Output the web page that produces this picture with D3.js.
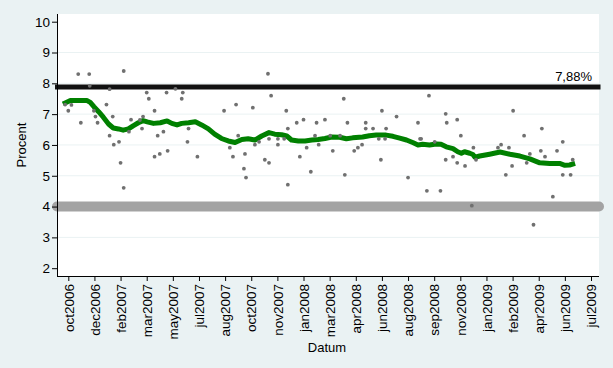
<!DOCTYPE html>
<html><head><meta charset="utf-8">
<script src="https://cdn.jsdelivr.net/npm/d3@7"></script>
<style>
body{margin:0;background:#eaf2f3}
svg{display:block}
text{font-family:"Liberation Sans",Arial,Helvetica,sans-serif;fill:#000}
</style>
</head><body><svg id="c" width="613" height="368"></svg>
<script>
// ---------- data ----------
const tickDates = ["2006-10-25","2006-12-14","2007-02-02","2007-03-24","2007-05-13","2007-07-02","2007-08-21",
  "2007-10-10","2007-11-29","2008-01-18","2008-03-08","2008-04-27","2008-06-16","2008-08-05","2008-09-24",
  "2008-11-13","2009-01-02","2009-02-21","2009-04-12","2009-06-01","2009-07-21"];
const yTicks = [2,3,4,5,6,7,8,9,10];
const yGrid = [3,4,5,6,7,8,9];
const yTitle = "Procent";
const xTitle = "Datum";

const pollDates = ["2006-10-19","2006-10-25","2006-10-31","2006-11-13","2006-11-18","2006-12-04","2006-12-05",
  "2006-12-13","2006-12-16","2006-12-20","2007-01-06","2007-01-12","2007-01-12","2007-01-18","2007-01-20",
  "2007-01-30","2007-02-02","2007-02-08","2007-02-08","2007-02-18","2007-02-22","2007-03-11","2007-03-15",
  "2007-03-17","2007-03-24","2007-03-28","2007-04-08","2007-04-08","2007-04-14","2007-04-18","2007-04-25",
  "2007-05-01","2007-05-03","2007-05-18","2007-05-30","2007-06-01","2007-06-10","2007-06-12","2007-06-29",
  "2007-08-19","2007-08-30","2007-09-05","2007-09-11","2007-09-15","2007-09-26","2007-09-28","2007-09-30",
  "2007-10-13","2007-10-17","2007-10-25","2007-11-05","2007-11-11","2007-11-13","2007-11-13","2007-11-17",
  "2007-11-30","2007-11-30","2007-12-12","2007-12-16","2007-12-19","2007-12-19","2008-01-05","2008-01-11",
  "2008-01-18","2008-01-24","2008-02-01","2008-02-09","2008-02-12","2008-02-16","2008-02-28","2008-03-09",
  "2008-03-14","2008-03-28","2008-04-04","2008-04-06","2008-04-11","2008-04-24","2008-05-01","2008-05-09",
  "2008-05-16","2008-05-16","2008-05-30","2008-06-10","2008-06-14","2008-06-16","2008-06-22","2008-06-24",
  "2008-07-14","2008-08-05","2008-08-24","2008-08-28","2008-08-30","2008-09-10","2008-09-14","2008-09-25",
  "2008-10-06","2008-10-16","2008-10-16","2008-10-18","2008-10-30","2008-11-07","2008-11-07","2008-11-14",
  "2008-11-22","2008-12-05","2008-12-08","2008-12-13","2009-01-24","2009-01-30","2009-02-08","2009-02-14",
  "2009-02-20","2009-02-22","2009-03-15","2009-03-20","2009-03-26","2009-04-02","2009-04-16","2009-04-18",
  "2009-04-24","2009-05-09","2009-05-17","2009-05-28","2009-05-28","2009-06-12","2009-06-16"];
const pollValues = [7.31,7.11,7.30,8.30,6.72,8.30,7.92,
  7.11,6.92,6.72,7.31,7.81,6.30,6.92,6.01,
  6.10,5.42,8.40,4.61,6.43,6.82,6.81,6.53,
  6.92,7.70,7.50,7.11,5.62,6.30,5.71,6.43,
  7.70,5.81,7.82,7.50,7.70,6.10,6.53,5.62,
  7.11,5.91,5.62,7.31,6.30,5.23,5.71,4.94,
  7.21,6.01,6.10,5.52,8.31,6.20,5.42,7.60,
  6.20,6.01,6.20,7.11,6.53,4.71,6.72,5.62,
  6.82,5.91,5.13,6.30,6.72,6.01,6.82,6.30,
  5.81,6.30,7.50,5.03,6.72,5.81,5.91,6.01,
  6.72,6.53,6.53,6.20,5.52,7.11,6.20,6.53,
  6.92,4.94,6.72,6.20,6.20,4.51,7.60,6.10,
  4.51,5.52,7.01,6.72,5.62,6.82,5.42,6.30,
  5.32,4.03,5.91,5.52,5.91,6.01,5.03,5.91,
  5.32,7.11,6.30,5.42,5.71,3.41,5.81,6.53,
  5.62,4.32,5.81,6.10,5.03,5.03,5.52];

const smoothDates = ["2006-10-19","2006-10-29","2006-11-11","2006-11-30","2006-12-06","2006-12-13","2006-12-22",
  "2006-12-31","2007-01-10","2007-01-19","2007-01-29","2007-02-07","2007-02-17","2007-02-26","2007-03-08",
  "2007-03-17","2007-03-25","2007-04-06","2007-04-19","2007-05-02","2007-05-11","2007-05-21","2007-05-30",
  "2007-06-12","2007-06-25","2007-07-07","2007-07-20","2007-08-01","2007-08-14","2007-08-27","2007-09-09",
  "2007-09-22","2007-10-04","2007-10-17","2007-10-30","2007-11-13","2007-11-24","2007-12-07","2007-12-17",
  "2007-12-26","2008-01-08","2008-01-21","2008-02-03","2008-02-15","2008-02-28","2008-03-12","2008-03-27",
  "2008-04-09","2008-04-21","2008-05-10","2008-05-23","2008-06-05","2008-06-24","2008-07-07","2008-07-20",
  "2008-08-02","2008-08-15","2008-08-24","2008-09-02","2008-09-15","2008-09-28","2008-10-07","2008-10-17",
  "2008-10-30","2008-11-08","2008-11-15","2008-11-21","2008-12-01","2008-12-07","2008-12-11","2008-12-20",
  "2009-01-08","2009-01-28","2009-02-16","2009-03-07","2009-03-26","2009-04-14","2009-05-03","2009-05-22",
  "2009-06-01","2009-06-10","2009-06-16"];
const smoothValues = [7.36,7.44,7.44,7.44,7.38,7.24,7.08,
  6.90,6.68,6.55,6.52,6.48,6.52,6.62,6.72,
  6.79,6.75,6.70,6.72,6.78,6.70,6.65,6.70,
  6.72,6.75,6.65,6.52,6.35,6.21,6.13,6.08,
  6.18,6.20,6.16,6.29,6.40,6.35,6.33,6.29,
  6.16,6.13,6.13,6.16,6.18,6.21,6.26,6.25,
  6.20,6.23,6.26,6.30,6.32,6.32,6.28,6.22,
  6.16,6.07,6.00,6.02,6.00,6.03,6.02,5.94,
  5.88,5.78,5.73,5.78,5.73,5.69,5.60,5.64,
  5.70,5.77,5.70,5.64,5.55,5.42,5.40,5.40,
  5.34,5.35,5.38];

const electionValue = 7.88;      // black reference line
const electionLabel = "7,88%";
const thresholdValue = 4;        // grey threshold line

// ---------- layout ----------
const W = 613, H = 368;
const plot = {left: 57, right: 599, top: 14, bottom: 276};
const parse = d3.utcParse("%Y-%m-%d");
const fmt = d3.utcFormat("%b%Y");

const x = d3.scaleUtc()
  .domain([parse(tickDates[0]), parse(tickDates[tickDates.length - 1])])
  .range([68.3, 591]);
const y = d3.scaleLinear().domain([2, 10]).range([268.2, 21.7]);

const svg = d3.select("#c");
svg.append("rect").attr("width", W).attr("height", H).attr("fill", "#eaf2f3");
svg.append("rect").attr("x", plot.left).attr("y", plot.top)
  .attr("width", plot.right - plot.left).attr("height", plot.bottom - plot.top).attr("fill", "#ffffff");

// gridlines
svg.append("g").selectAll("line").data(yGrid).join("line")
  .attr("x1", plot.left).attr("x2", plot.right)
  .attr("y1", d => y(d)).attr("y2", d => y(d))
  .attr("stroke", "#eaf2f3").attr("stroke-width", 1);

// threshold (grey) and election (black) lines
svg.append("line")
  .attr("x1", plot.left).attr("x2", plot.right)
  .attr("y1", y(thresholdValue)).attr("y2", y(thresholdValue))
  .attr("stroke", "#a3a3a3").attr("stroke-width", 10).attr("stroke-linecap", "round");
svg.append("line")
  .attr("x1", plot.left - 2).attr("x2", plot.right + 1.5)
  .attr("y1", y(electionValue)).attr("y2", y(electionValue))
  .attr("stroke", "#111111").attr("stroke-width", 5).attr("stroke-linecap", "butt");

svg.append("text")
  .attr("x", 592).attr("y", y(electionValue) - 6.5)
  .attr("text-anchor", "end").attr("font-size", 13).text(electionLabel);

// smoothed line
const smooth = smoothDates.map((d, i) => [parse(d), smoothValues[i]]);
svg.append("path").datum(smooth)
  .attr("fill", "none").attr("stroke", "#008000").attr("stroke-width", 5)
  .attr("stroke-linejoin", "round").attr("stroke-linecap", "square")
  .attr("d", d3.line().x(d => x(d[0])).y(d => y(d[1])));

// poll points
const polls = pollDates.map((d, i) => [parse(d), pollValues[i]]);
svg.append("g").selectAll("circle").data(polls).join("circle")
  .attr("cx", d => x(d[0])).attr("cy", d => y(d[1])).attr("r", 1.9)
  .attr("fill", "#707070");

// axes
const yAxis = svg.append("g").attr("transform", `translate(${plot.left},0)`)
  .call(d3.axisLeft(y).tickValues(yTicks).tickSize(5).tickPadding(2).tickFormat(d3.format("d")));
yAxis.select(".domain").remove();
yAxis.selectAll("line").attr("stroke", "#000");
yAxis.selectAll("text").attr("font-size", 13.5).attr("font-family", "Liberation Sans, Arial, sans-serif");

const xAxis = svg.append("g").attr("transform", `translate(0,${plot.bottom})`)
  .call(d3.axisBottom(x).tickValues(tickDates.map(parse)).tickSize(5)
    .tickFormat(d => fmt(d).toLowerCase()));
xAxis.select(".domain").remove();
xAxis.selectAll("line").attr("stroke", "#000");
xAxis.selectAll("text")
  .attr("font-size", 13.5).attr("font-family", "Liberation Sans, Arial, sans-serif")
  .attr("transform", "rotate(-90)").attr("text-anchor", "end")
  .attr("x", -8).attr("y", 0).attr("dy", "0.35em");

// axis lines
svg.append("line").attr("x1", plot.left + 0.5).attr("x2", plot.left + 0.5)
  .attr("y1", plot.top).attr("y2", plot.bottom).attr("stroke", "#000").attr("stroke-width", 1);
svg.append("line").attr("x1", plot.left).attr("x2", plot.right)
  .attr("y1", plot.bottom + 0.5).attr("y2", plot.bottom + 0.5).attr("stroke", "#000").attr("stroke-width", 1);

// titles
svg.append("text").attr("transform", "translate(25.5,145) rotate(-90)")
  .attr("text-anchor", "middle").attr("font-size", 13).text(yTitle);
svg.append("text").attr("x", 327).attr("y", 352)
  .attr("text-anchor", "middle").attr("font-size", 13).text(xTitle);
</script></body></html>
